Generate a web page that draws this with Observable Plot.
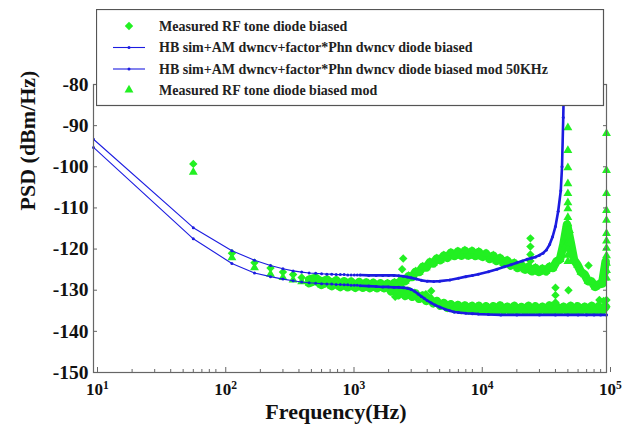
<!DOCTYPE html>
<html>
<head>
<meta charset="utf-8">
<script src="https://cdn.jsdelivr.net/npm/d3@7"></script>
<script src="https://cdn.jsdelivr.net/npm/@observablehq/plot@0.6"></script>
<style>
  html, body { margin: 0; padding: 0; background: #fff; }
  #chart { position: relative; width: 633px; height: 433px; overflow: hidden;
           font-family: "Liberation Serif", "Times New Roman", serif; }
  #chart > svg.plot { position: absolute; left: 0; top: 0; }
  #chart > svg#legend { position: absolute; left: 96px; top: 9px; }
</style>
</head>
<body>
<div id="chart"></div>
<script>
// ---- series names (legend order) ----
const seriesNames = [
  "Measured RF tone diode biased",
  "HB sim+AM dwncv+factor*Phn dwncv diode biased",
  "HB sim+AM dwncv+factor*Phn dwncv diode biased mod 50KHz",
  "Measured RF tone diode biased mod"
];

// ---- axis ticks ----
const yTicks = [-150, -140, -130, -120, -110, -100, -90, -80];
const xTicks = [10, 100, 1000, 10000, 100000];
const xTickExponents = ["1", "2", "3", "4", "5"];
const xMinorTicks = [
  20, 30, 40, 50, 60, 70, 80, 90,
  200, 300, 400, 500, 600, 700, 800, 900,
  2000, 3000, 4000, 5000, 6000, 7000, 8000, 9000,
  20000, 30000, 40000, 50000, 60000, 70000, 80000, 90000
];

// ---- measured spectra (Hz, dBm/Hz) ----
const measFreq = [
  60, 120, 180, 240, 300, 360, 420, 480, 540, 600, 660, 720, 780, 840, 900, 960, 1020,
  1100, 1180, 1260, 1340, 1430, 1520, 1620, 1730, 1840, 1960,
  2090, 2220, 2370, 2520, 2690, 2860, 3050, 3250, 3460, 3690,
  3930, 4190, 4460, 4750, 5060, 5390, 5740, 6120, 6520, 6940,
  7390, 7870, 8390, 8930, 9510, 10100, 10800, 11500, 12300, 13100,
  13900, 14800, 15800, 16800, 17900, 19100, 20300, 21700, 23100, 24600,
  26200, 27900, 29700, 31600, 33700, 35900, 38200, 40700, 43400, 46200,
  49200, 52400, 55800, 59500, 63300, 67500, 71900, 76500, 81500, 86800,
  92500, 98500
];
// diode biased
const measPsd = [
  -99.3, -121.0, -123.3, -124.6, -125.6, -126.2, -126.9, -127.4, -127.0, -128.0, -127.4, -128.4, -127.6, -128.6, -127.8, -128.8, -127.9,
  -129.0, -128.0, -129.2, -128.1, -129.3, -128.2, -129.4, -128.3, -129.5, -128.4,
  -130.3, -128.8, -131.2, -129.6, -131.4, -130.2, -131.6, -130.8, -132.1, -131.3,
  -132.6, -132.0, -133.2, -132.6, -133.8, -133.1, -134.3, -133.4, -134.6, -133.6,
  -134.8, -133.7, -134.9, -133.8, -135.0, -133.8, -135.0, -133.9, -135.1, -133.9,
  -135.1, -133.7, -134.9, -134.0, -135.2, -133.8, -135.0, -134.1, -135.1, -133.8,
  -135.2, -133.9, -135.0, -134.0, -135.1, -133.7, -135.2, -133.9, -135.0, -134.0,
  -135.1, -133.8, -135.2, -133.9, -135.0, -134.0, -135.1, -133.8, -135.2, -133.9,
  -135.0, -134.0
];
// diode biased mod
const measModPsd = [
  -101.3, -122.1, -124.5, -126.1, -126.9, -127.5, -127.9, -128.3, -127.6, -128.7, -128.0, -129.0, -128.2, -129.2, -128.3, -129.3, -128.4,
  -129.4, -128.5, -129.4, -128.5, -129.5, -128.6, -129.5, -128.6, -129.4, -128.5,
  -129.2, -128.2, -128.7, -127.5, -127.8, -126.6, -126.8, -125.5, -125.6, -124.3,
  -124.5, -123.2, -123.5, -122.3, -122.7, -121.6, -122.1, -120.9, -121.7, -120.6,
  -121.6, -120.4, -121.6, -120.5, -121.7, -120.7, -121.9, -121.1, -122.4, -121.6,
  -122.9, -122.2, -123.5, -122.8, -124.0, -123.4, -124.6, -123.9, -125.0, -124.3,
  -125.4, -124.6, -125.6, -124.8, -125.4, -124.3, -124.6, -123.0, -122.5, -118.8,
  -114.0, -118.2, -122.6, -123.9, -125.6, -126.2, -127.8, -127.9, -129.2, -128.6,
  -128.4, -123.0
];
// isolated spurs of the diode biased trace
const spurFreq = [2250, 2550, 2600, 3200, 3900, 4300, 25500, 25500, 25500, 25500, 40000, 40000, 40000, 50500, 72400, 88000, 95000, 100000, 100000];
const spurPsd  = [-131.6, -124.9, -122.3, -130.6, -131.0, -130.2, -117.4, -119.4, -121.3, -122.9, -129.4, -131.2, -133.0, -130.0, -124.0, -132.4, -132.6, -134.0, -132.4];
// modulation tones of the mod trace (50 kHz and 100 kHz)
const spikeFreq = [
  48500, 48500, 50000, 50000, 50000, 50000, 50000, 50000, 50000, 50000, 50000, 50000, 50000, 50000, 50000, 50000, 50000,
  51500, 51500, 51500, 97000, 97000,
  100000, 100000, 100000, 100000, 100000, 100000, 100000, 100000, 100000, 100000, 100000, 100000
];
const spikePsd = [
  -116.0, -119.0, -90.5, -96.0, -100.2, -104.1, -106.5, -108.7, -110.2, -112.3, -113.8, -115.5, -117.0, -118.5, -120.0, -121.5, -123.0,
  -115.5, -118.5, -121.0, -125.5, -127.0,
  -91.9, -100.9, -106.5, -110.6, -113.0, -116.2, -118.0, -119.8, -121.6, -123.4, -125.2, -127.0
];

// ---- simulated spectra (Hz, dBm/Hz) ----
const simFreq = [
  10, 60, 120, 180, 240, 300, 360, 420, 480, 540, 600, 660, 720, 780, 840, 900, 960, 1020, 1080, 1140, 1200,
  1400, 1600, 1800, 2000, 2200, 2400, 2600, 2800, 3000, 3200, 3400, 3600, 3800, 4000, 4300, 4600,
  5000, 5500, 6000, 6500, 7000, 8000, 9000, 10000, 12000, 15000, 20000, 30000, 40000, 50000,
  60000, 70000, 80000, 90000, 100000
];
const simPsd = [
  -95.3, -117.5, -123.5, -125.8, -126.7, -127.3, -127.7, -128.0, -128.2, -128.3, -128.4, -128.5, -128.5, -128.6, -128.6, -128.7, -128.7, -128.8, -128.8, -128.8, -128.9,
  -129.0, -129.1, -129.2, -129.2, -129.3, -129.3, -129.4, -129.5, -129.8, -130.3, -130.9, -131.5, -132.0, -132.5, -133.1, -133.6,
  -134.1, -134.6, -135.0, -135.3, -135.4, -135.6, -135.7, -135.8, -135.9, -136.0, -136.0, -136.0, -136.0, -136.0,
  -136.0, -136.0, -136.0, -136.0, -136.0
];
const simModFreq = [
  10, 60, 120, 180, 240, 300, 360, 420, 480, 540, 600, 660, 720, 780, 840, 900, 960, 1020, 1080, 1140, 1200,
  1400, 1600, 1800, 2000, 2200, 2400, 2600, 2800, 3000, 3300, 3600, 4000, 4500, 5000, 6000, 7000, 8000, 9000, 10000,
  12000, 14000, 16000, 18000, 20000, 22000, 24000, 26000, 28000, 30000, 32000, 34000, 36000, 38000, 40000,
  42000, 44000, 45000, 46000, 47000
];
const simModPsd = [
  -93.3, -114.8, -120.4, -122.7, -124.0, -124.8, -125.3, -125.6, -125.8, -125.9, -126.0, -126.1, -126.1, -126.2, -126.2, -126.2, -126.3, -126.3, -126.3, -126.3, -126.3,
  -126.4, -126.4, -126.4, -126.4, -126.4, -126.5, -126.6, -126.8, -127.0, -127.3, -127.6, -127.8, -127.9, -127.8, -127.5, -127.1, -126.7, -126.4, -126.1,
  -125.5, -124.9, -124.3, -123.8, -123.3, -122.9, -122.5, -122.2, -121.9, -121.5, -121.0, -120.2, -118.9, -117.0, -114.5,
  -110.8, -105.8, -100.0, -88.0, -74.0
];

// ---- drawing ----
const GREEN = "#22f022";
const BLUE = "#1c1ce0";
const AXIS = "#666";
const FONT = "Liberation Serif, Times New Roman, serif";
const rDiamond = 3.8, rTriangle = 3.3;

const rows = (fs, ps) => fs.map((f, i) => ({f, psd: ps[i]}));
const meas = rows(measFreq, measPsd);
const measMod = rows(measFreq, measModPsd);
const spurs = rows(spurFreq, spurPsd);
const spikes = rows(spikeFreq, spikePsd);
const sim = rows(simFreq, simPsd);
const simMod = rows(simModFreq, simModPsd);
const dense = d => d.f >= 1200;      // simulated points merge into a thick trace here
const packed = d => d.f >= 480;      // measured points overlap into a solid band here

const svg = Plot.plot({
  width: 633,
  height: 433,
  marginLeft: 93,
  marginRight: 27,
  marginTop: 84,
  marginBottom: 61,
  x: {type: "log", domain: [10, 1e5]},
  y: {domain: [-150, -80]},
  style: {fontFamily: FONT, fontWeight: "bold", color: "#111", background: "#fff", overflow: "visible"},
  marks: [
    // measured traces: solid band where the samples pile up, markers on top
    Plot.line(meas.filter(packed), {x: "f", y: "psd", stroke: GREEN, strokeWidth: 8.5,
      strokeLinejoin: "round", strokeLinecap: "round"}),
    Plot.line(measMod.filter(packed), {x: "f", y: "psd", stroke: GREEN, strokeWidth: 8.5,
      strokeLinejoin: "round", strokeLinecap: "round"}),
    Plot.dot(meas, {x: "f", y: "psd", symbol: "diamond2", r: rDiamond, fill: GREEN}),
    Plot.dot(spurs, {x: "f", y: "psd", symbol: "diamond2", r: rDiamond, fill: GREEN}),
    Plot.dot(measMod, {x: "f", y: "psd", symbol: "triangle", r: rTriangle, fill: GREEN}),
    Plot.dot(spikes, {x: "f", y: "psd", symbol: "triangle", r: rTriangle, fill: GREEN}),
    // simulated traces
    Plot.line(sim, {x: "f", y: "psd", stroke: BLUE, strokeWidth: 1.1}),
    Plot.line(sim.filter(dense), {x: "f", y: "psd", stroke: BLUE, strokeWidth: 2.6}),
    Plot.dot(sim, {x: "f", y: "psd", r: 1.5, fill: BLUE}),
    Plot.line(simMod, {x: "f", y: "psd", stroke: BLUE, strokeWidth: 1.1, clip: true}),
    Plot.line(simMod.filter(dense), {x: "f", y: "psd", stroke: BLUE, strokeWidth: 2.6, clip: true}),
    Plot.dot(simMod, {x: "f", y: "psd", r: 1.5, fill: BLUE, clip: true}),
    // frame and inward ticks
    Plot.frame({stroke: AXIS, strokeWidth: 1.2}),
    Plot.axisY(yTicks, {anchor: "left", tickSize: -4, tickPadding: 9, stroke: AXIS,
      tickFormat: d => String(d), fontSize: 19.5, fill: "#111", label: null}),
    Plot.axisY(yTicks, {anchor: "right", tickSize: -4, stroke: AXIS, tickFormat: () => "", label: null}),
    Plot.axisX(xTicks, {anchor: "bottom", tickSize: -5, tickPadding: 15, stroke: AXIS,
      tickFormat: d => xTickExponents[xTicks.indexOf(d)], fontSize: 17, fill: "#111", dx: 4, label: null}),
    Plot.axisX(xMinorTicks, {anchor: "bottom", tickSize: -3, stroke: AXIS, tickFormat: () => "", label: null}),
    Plot.axisX(xTicks, {anchor: "top", tickSize: -5, stroke: AXIS, tickFormat: () => "", label: null}),
    Plot.axisX(xMinorTicks, {anchor: "top", tickSize: -3, stroke: AXIS, tickFormat: () => "", label: null}),
    // axis titles
    Plot.text(["PSD (dBm/Hz)"], {frameAnchor: "left", dx: -66, dy: -18, rotate: -90,
      fontSize: 22, fontWeight: "bold", fill: "#111"}),
    Plot.text(["Frequency(Hz)"], {frameAnchor: "bottom", dx: -14, dy: 46,
      fontSize: 22, fontWeight: "bold", fill: "#111"})
  ]
});
svg.classList.add("plot");

// powers of ten on the frequency axis: "10" with a raised exponent
d3.select(svg).selectAll('g[aria-label="x-axis tick label"] text').each(function () {
  const e = this.textContent;
  if (!e) return;
  const t = d3.select(this);
  t.text("10");
  t.append("tspan").attr("dy", "-0.5em").attr("font-size", "0.68em").text(e);
});

document.getElementById("chart").appendChild(svg);

// ---- legend box over the top of the plot ----
const legendW = 507, legendH = 96;
const rowY = [17, 38.5, 60, 81];
const lg = d3.select("#chart").append("svg")
  .attr("id", "legend")
  .attr("width", legendW + 2).attr("height", legendH + 2);
lg.append("rect")
  .attr("x", 0.5).attr("y", 0.5).attr("width", legendW).attr("height", legendH)
  .attr("fill", "#fff").attr("stroke", "#555").attr("stroke-width", 1.2);

const markerX = 33;
const symbolPath = (type, r) => d3.symbol(type, Math.PI * r * r)();
const swatches = [
  g => g.append("path").attr("d", symbolPath(d3.symbolDiamond2, rDiamond)).attr("fill", GREEN),
  g => { g.append("line").attr("x1", -16).attr("x2", 16).attr("stroke", BLUE).attr("stroke-width", 1.1);
         g.append("circle").attr("r", 1.5).attr("fill", BLUE); },
  g => { g.append("line").attr("x1", -16).attr("x2", 16).attr("stroke", BLUE).attr("stroke-width", 1.1);
         g.append("circle").attr("r", 1.5).attr("fill", BLUE); },
  g => g.append("path").attr("d", symbolPath(d3.symbolTriangle, rTriangle)).attr("fill", GREEN)
];
seriesNames.forEach((name, i) => {
  const g = lg.append("g").attr("transform", `translate(${markerX},${rowY[i]})`);
  swatches[i](g);
  lg.append("text")
    .attr("x", 63).attr("y", rowY[i]).attr("dy", "0.35em")
    .attr("font-family", FONT).attr("font-weight", "bold").attr("font-size", 14)
    .attr("fill", "#222")
    .text(name);
});
</script>
</body>
</html>
